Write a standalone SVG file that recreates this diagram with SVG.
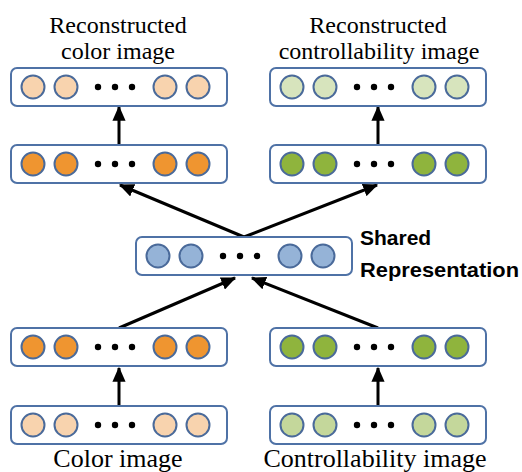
<svg xmlns="http://www.w3.org/2000/svg" width="522" height="472" viewBox="0 0 522 472">
<style>
.box{fill:#fff;stroke:#4f72a6;stroke-width:2}
.c{stroke:#4a6a9a;stroke-width:2}
.lo{fill:#f8d3ae}.o{fill:#ef9530}.lg1{fill:#d7e4bd}.g{fill:#8fb43d}.lg2{fill:#c4d79b}.b{fill:#95b3d7}
.dot{fill:#000}
.t{font-family:"Liberation Serif","Times New Roman",serif;fill:#000;text-anchor:middle}
.s{font-family:"Liberation Sans",Arial,sans-serif;font-weight:bold;font-size:21px;fill:#000}
.arr{stroke:#000;stroke-width:3;fill:none;marker-end:url(#ah)}
</style>
<defs>
<marker id="ah" markerWidth="5" markerHeight="4.4" refX="4.6" refY="2.2" orient="auto" markerUnits="strokeWidth">
<path d="M0,0 L5,2.2 L0,4.4 Z" fill="#000"/>
</marker>
<g id="layer">
<rect class="box" x="0" y="0" width="216" height="38" rx="6"/>
<circle class="dot" cx="87" cy="19" r="3.2"/>
<circle class="dot" cx="104" cy="19" r="3.2"/>
<circle class="dot" cx="121" cy="19" r="3.2"/>
</g>
</defs>
<g id="connectors">
<line class="arr" x1="119" y1="145" x2="119" y2="107"/>
<line class="arr" x1="378" y1="145" x2="378" y2="107"/>
<line class="arr" x1="244" y1="237" x2="120" y2="185"/>
<line class="arr" x1="244" y1="237" x2="377" y2="185"/>
<line class="arr" x1="119" y1="328" x2="235" y2="278"/>
<line class="arr" x1="378" y1="328" x2="252" y2="278"/>
<line class="arr" x1="119" y1="406" x2="119" y2="368"/>
<line class="arr" x1="378" y1="406" x2="378" y2="368"/>
</g>
<g id="rec-color">
<use href="#layer" x="11" y="68"/>
<g class="c lo"><circle cx="33" cy="87" r="11.5"/><circle cx="66" cy="87" r="11.5"/><circle cx="165" cy="87" r="11.5"/><circle cx="198" cy="87" r="11.5"/></g>
</g>
<g id="rec-ctrl">
<use href="#layer" x="270" y="68"/>
<g class="c lg1"><circle cx="292" cy="87" r="11.5"/><circle cx="325" cy="87" r="11.5"/><circle cx="424" cy="87" r="11.5"/><circle cx="457" cy="87" r="11.5"/></g>
</g>
<g id="dec-color">
<use href="#layer" x="11" y="145"/>
<g class="c o"><circle cx="33" cy="164" r="11.5"/><circle cx="66" cy="164" r="11.5"/><circle cx="165" cy="164" r="11.5"/><circle cx="198" cy="164" r="11.5"/></g>
</g>
<g id="dec-ctrl">
<use href="#layer" x="270" y="145"/>
<g class="c g"><circle cx="292" cy="164" r="11.5"/><circle cx="325" cy="164" r="11.5"/><circle cx="424" cy="164" r="11.5"/><circle cx="457" cy="164" r="11.5"/></g>
</g>
<g id="shared">
<use href="#layer" x="136" y="237"/>
<g class="c b"><circle cx="158" cy="256" r="11.5"/><circle cx="191" cy="256" r="11.5"/><circle cx="290" cy="256" r="11.5"/><circle cx="323" cy="256" r="11.5"/></g>
<text class="s" x="360" y="245">Shared</text>
<text class="s" x="360" y="277" textLength="159" lengthAdjust="spacingAndGlyphs">Representation</text>
</g>
<g id="enc-color">
<use href="#layer" x="11" y="328"/>
<g class="c o"><circle cx="33" cy="347" r="11.5"/><circle cx="66" cy="347" r="11.5"/><circle cx="165" cy="347" r="11.5"/><circle cx="198" cy="347" r="11.5"/></g>
</g>
<g id="enc-ctrl">
<use href="#layer" x="270" y="328"/>
<g class="c g"><circle cx="292" cy="347" r="11.5"/><circle cx="325" cy="347" r="11.5"/><circle cx="424" cy="347" r="11.5"/><circle cx="457" cy="347" r="11.5"/></g>
</g>
<g id="in-color">
<use href="#layer" x="11" y="406"/>
<g class="c lo"><circle cx="33" cy="425" r="11.5"/><circle cx="66" cy="425" r="11.5"/><circle cx="165" cy="425" r="11.5"/><circle cx="198" cy="425" r="11.5"/></g>
</g>
<g id="in-ctrl">
<use href="#layer" x="270" y="406"/>
<g class="c lg2"><circle cx="292" cy="425" r="11.5"/><circle cx="325" cy="425" r="11.5"/><circle cx="424" cy="425" r="11.5"/><circle cx="457" cy="425" r="11.5"/></g>
</g>
<g id="labels">
<text class="t" font-size="24" x="118" y="33">Reconstructed</text>
<text class="t" font-size="24" x="118" y="59">color image</text>
<text class="t" font-size="24" x="378" y="33">Reconstructed</text>
<text class="t" font-size="24" x="379" y="59">controllability image</text>
<text class="t" font-size="26" x="118" y="467">Color image</text>
<text class="t" font-size="26" x="375" y="467">Controllability image</text>
</g>
</svg>
